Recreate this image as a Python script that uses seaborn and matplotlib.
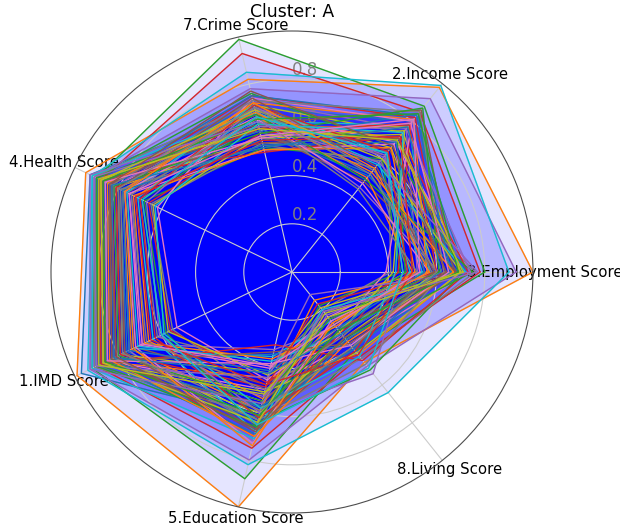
import numpy as np
import matplotlib
matplotlib.use("Agg")
import matplotlib.pyplot as plt
import seaborn as sns

# eixos do radar, na ordem em que aparecem (sentido anti-horario a partir da direita)
labels = ["3.Employment Score", "2.Income Score", "7.Crime Score", "4.Health Score",
          "1.IMD Score", "5.Education Score", "8.Living Score"]

employment = [.72, 1.00, .80, .78, .93, .55, .62, .48, .66, .90,
              .58, .70, .45, .63, .52, .68, .74, .41, .60, .57,
              .65, .50, .71, .44, .59, .67, .53, .76, .62, .49,
              .69, .56, .47, .73, .61, .64, .39, .58, .70, .54,
              .66, .51, .75, .60, .46, .68, .57, .63, .42, .72,
              .55, .67, .61, .48, .74, .59, .65, .52, .70, .43,
              .62, .57, .69, .50, .77, .64, .53, .60, .71, .46]
income = [.80, .98, .88, .85, .92, .62, .70, .55, .74, .99,
          .52, .71, .60, .82, .76, .48, .69, .64, .66, .78,
          .84, .50, .67, .79, .61, .86, .68, .54, .73, .58,
          .51, .81, .70, .72, .45, .65, .80, .59, .77, .63,
          .83, .66, .49, .78, .62, .71, .47, .85, .75, .57,
          .69, .53, .87, .64, .76, .56, .79, .44, .60, .74,
          .77, .55, .84, .72, .58, .67, .81, .52, .70, .63]
crime = [.70, .82, .99, .93, .78, .62, .66, .58, .71, .85,
         .61, .65, .53, .75, .73, .60, .67, .55, .69, .64,
         .56, .66, .76, .59, .70, .63, .52, .72, .57, .68,
         .60, .72, .63, .51, .69, .67, .74, .54, .62, .71,
         .75, .52, .67, .61, .70, .55, .65, .73, .58, .68,
         .54, .68, .59, .71, .62, .74, .57, .66, .69, .63,
         .53, .72, .65, .56, .64, .77, .58, .70, .61, .66]
health = [.93, .95, .90, .88, .91, .76, .82, .70, .84, .92,
          .79, .87, .68, .83, .74, .89, .86, .65, .80, .77,
          .85, .72, .90, .66, .78, .88, .75, .91, .81, .71,
          .87, .78, .69, .89, .82, .84, .62, .79, .88, .76,
          .86, .73, .90, .81, .67, .87, .77, .83, .64, .92,
          .78, .85, .82, .70, .91, .80, .86, .74, .88, .63,
          .83, .77, .87, .72, .93, .84, .75, .80, .89, .69]
imd = [.97, .99, .92, .90, .93, .72, .80, .62, .83, .94,
       .76, .86, .58, .81, .69, .88, .85, .55, .78, .73,
       .84, .66, .89, .56, .75, .87, .70, .91, .79, .64,
       .86, .74, .60, .88, .80, .83, .53, .77, .87, .71,
       .85, .68, .90, .79, .61, .86, .72, .82, .57, .92,
       .75, .84, .80, .63, .90, .77, .85, .67, .87, .59,
       .82, .73, .86, .65, .93, .81, .69, .78, .89, .60]
education = [.62, 1.00, .88, .75, .80, .48, .55, .40, .60, .82,
             .58, .45, .66, .70, .33, .56, .50, .52, .63, .36,
             .35, .54, .64, .47, .72, .57, .41, .61, .43, .68,
             .69, .59, .62, .31, .53, .67, .46, .65, .51, .38,
             .57, .37, .66, .49, .60, .34, .73, .63, .44, .71,
             .42, .70, .55, .62, .45, .67, .39, .50, .64, .58,
             .43, .74, .61, .48, .56, .68, .40, .59, .52, .65]
living = [.40, .48, .42, .45, .50, .28, .33, .22, .36, .64,
          .41, .44, .18, .32, .29, .30, .38, .20, .35, .26,
          .39, .27, .52, .34, .23, .37, .24, .46, .19, .31,
          .36, .15, .28, .47, .25, .40, .30, .21, .43, .33,
          .41, .29, .35, .17, .54, .38, .26, .49, .32, .20,
          .30, .37, .25, .42, .12, .31, .39, .34, .22, .45,
          .33, .27, .31, .44, .21, .35, .28, .40, .24, .51]

sns.set_style("white")
plt.rcParams["font.family"] = ["DejaVu Sans"]
plt.rcParams["text.color"] = "black"
plt.rcParams["xtick.color"] = "black"
palette = sns.color_palette("tab10")

angles = np.linspace(0, 2 * np.pi, len(labels), endpoint=False).tolist()
angles += angles[:1]

fig = plt.figure(figsize=(6.2, 5.27), dpi=100)
ax = fig.add_axes([51 / 620, 14 / 527, 482 / 620, 482 / 527], polar=True)
ax.set_axisbelow("line")  # grade e rotulos por cima do preenchimento, por baixo das linhas

for i in range(len(employment)):
    values = [employment[i], income[i], crime[i], health[i], imd[i], education[i], living[i]]
    values += values[:1]
    ax.plot(angles, values, linewidth=1, color=palette[i % 10])
    ax.fill(angles, values, color="blue", alpha=0.1)

ax.set_xticks(angles[:-1])
ax.set_xticklabels(labels, size=10.7, color="black")
ax.tick_params(axis="x", pad=-2)
ax.set_rlabel_position(90)
ax.set_yticks([0.2, 0.4, 0.6, 0.8])
ax.set_yticklabels(["0.2", "0.4", "0.6", "0.8"], color="grey", size=12)
ax.set_ylim(0, 1)
ax.grid(True)
ax.spines["polar"].set_color("0.3")
ax.set_title("Cluster: A", size=12.4, y=1.029, pad=0, color="black")

fig.savefig("out.png", dpi=100)
